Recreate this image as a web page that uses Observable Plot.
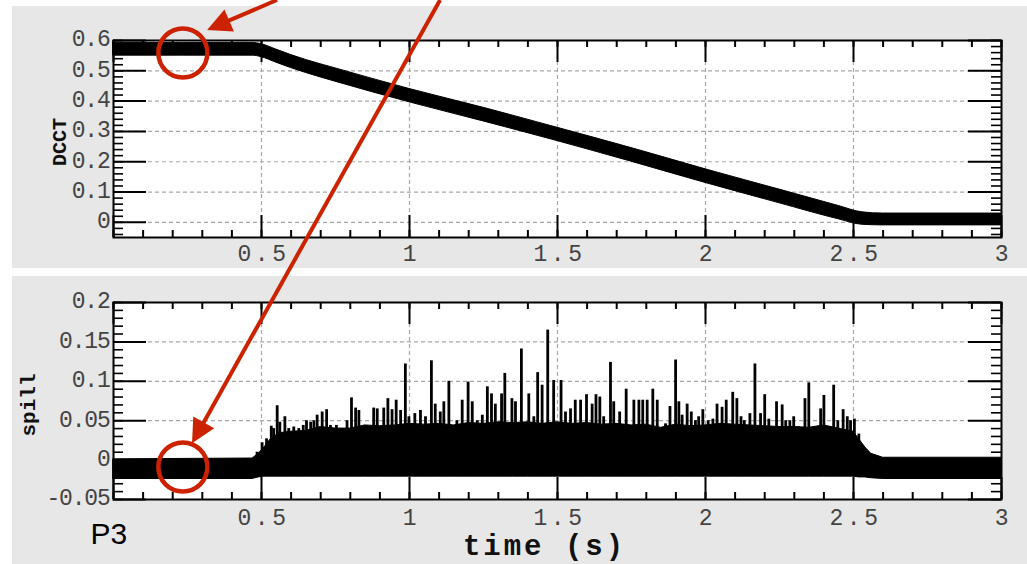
<!DOCTYPE html>
<html><head><meta charset="utf-8">
<script src="https://cdn.jsdelivr.net/npm/d3@7"></script>
<script src="https://cdn.jsdelivr.net/npm/@observablehq/plot@0.6"></script>
<style>
body{margin:0;background:#fff;width:1027px;height:564px;overflow:hidden;position:relative}
.panel{position:absolute;left:12px;width:1015px;background:#e7e7e7}
#p1{top:6px;height:262px}
#p2{top:276px;height:288px}
.panel svg{display:block}
#overlay{position:absolute;left:0;top:0;pointer-events:none}
</style></head><body>
<div class="panel" id="p1"></div>
<div class="panel" id="p2"></div>
<svg id="overlay" width="1027" height="564"></svg>
<script>
// ---- DCCT band (time, lower edge, upper edge) ----
const dcctT  = [0, 0.47, 0.50, 0.55, 0.60, 0.65, 0.75, 1.00, 1.25, 1.50, 1.75, 2.00, 2.25, 2.45, 2.53, 2.60, 3.00];
const dcctLo = [0.550, 0.550, 0.545, 0.527, 0.509, 0.493, 0.464, 0.396, 0.333, 0.268, 0.200, 0.130, 0.063, 0.010, -0.008, -0.010, -0.010];
const dcctHi = [0.592, 0.592, 0.588, 0.570, 0.552, 0.536, 0.508, 0.440, 0.378, 0.312, 0.245, 0.175, 0.108, 0.054, 0.033, 0.029, 0.029];

// ---- spill dense body (time, lower edge, upper edge) ----
const bodyT  = [0, 0.47, 0.49, 0.51, 0.53, 0.56, 0.60, 0.65, 0.70, 0.75, 0.80, 0.85, 0.90, 0.95, 1.00, 1.05, 1.10, 1.15, 1.20, 1.25, 1.30, 1.35, 1.40, 1.45, 1.50, 1.55, 1.60, 1.65, 1.70, 1.75, 1.80, 1.85, 1.90, 1.95, 2.00, 2.05, 2.10, 2.15, 2.20, 2.25, 2.30, 2.35, 2.40, 2.45, 2.50, 2.52, 2.54, 2.56, 2.60, 3.00];
const bodyLo = [-0.024, -0.024, -0.022, -0.021, -0.021, -0.021, -0.021, -0.021, -0.021, -0.021, -0.021, -0.021, -0.021, -0.021, -0.021, -0.021, -0.021, -0.021, -0.021, -0.021, -0.021, -0.021, -0.021, -0.021, -0.021, -0.021, -0.021, -0.021, -0.021, -0.021, -0.021, -0.021, -0.021, -0.021, -0.021, -0.021, -0.021, -0.021, -0.021, -0.021, -0.021, -0.021, -0.021, -0.021, -0.021, -0.022, -0.022, -0.023, -0.024, -0.024];
const bodyHi = [0.001, 0.002, 0.008, 0.016, 0.026, 0.034, 0.036, 0.037, 0.042, 0.040, 0.040, 0.044, 0.043, 0.044, 0.046, 0.045, 0.046, 0.044, 0.047, 0.046, 0.048, 0.047, 0.048, 0.046, 0.048, 0.046, 0.047, 0.045, 0.046, 0.044, 0.045, 0.041, 0.045, 0.043, 0.044, 0.046, 0.045, 0.044, 0.043, 0.042, 0.042, 0.041, 0.044, 0.040, 0.036, 0.026, 0.016, 0.008, 0.003, 0.003];

// ---- spill spikes (time, peak value) ----
const spikeT = [0.485,0.502,0.517,0.533,0.541,0.553,0.562,0.579,0.592,0.609,0.626,0.641,0.652,0.666,0.677,0.688,0.705,0.720,0.733,0.753,0.772,0.789,0.804,0.818,0.829,0.846,0.862,0.879,
  0.891,0.913,0.927,0.941,0.955,0.970,0.986,0.998,1.018,1.037,1.054,1.074,1.087,1.104,1.116,1.133,1.149,1.160,1.178,1.198,1.212,1.229,1.246,1.263,1.277,1.290,1.311,1.322,
  1.346,1.358,1.378,1.388,1.403,1.420,1.433,1.448,1.467,1.487,1.512,1.527,1.544,1.560,1.578,1.598,1.617,1.630,1.643,1.656,1.679,1.690,1.710,1.732,
  1.758,1.775,1.788,1.803,1.822,1.837,1.854,1.865,1.880,1.899,1.910,1.921,1.938,1.952,1.966,1.977,1.991,2.009,2.025,2.039,2.056,2.070,2.092,2.106,2.120,2.131,2.150,2.167,
  2.186,2.200,2.214,2.225,2.240,2.259,2.271,2.285,2.298,2.315,2.336,2.349,2.366,2.389,2.400,2.417,2.433,2.447,2.465,2.479,2.490,2.503,2.518,2.529,2.540];
const spikeV = [0.010,0.022,0.027,0.043,0.040,0.069,0.048,0.055,0.040,0.042,0.040,0.044,0.050,0.048,0.050,0.057,0.061,0.064,0.044,0.044,0.040,0.050,0.079,0.066,0.063,0.042,0.042,0.066,
  0.065,0.066,0.078,0.064,0.076,0.063,0.122,0.055,0.059,0.063,0.055,0.126,0.071,0.061,0.074,0.100,0.044,0.050,0.076,0.099,0.074,0.050,0.057,0.093,0.084,0.071,0.084,0.110,
  0.078,0.074,0.141,0.044,0.084,0.055,0.111,0.095,0.165,0.101,0.101,0.061,0.065,0.076,0.076,0.083,0.071,0.083,0.080,0.055,0.124,0.074,0.061,0.090,
  0.076,0.076,0.076,0.076,0.090,0.076,0.033,0.046,0.068,0.127,0.074,0.057,0.071,0.061,0.050,0.055,0.064,0.050,0.052,0.071,0.067,0.076,0.086,0.078,0.055,0.050,0.059,0.122,
  0.059,0.083,0.052,0.038,0.074,0.070,0.050,0.050,0.055,0.042,0.078,0.098,0.042,0.065,0.082,0.042,0.095,0.050,0.064,0.055,0.050,0.052,0.033,0.018,0.012];

// ---- axes: ticks and labels ----
const xMajor = [0, 0.5, 1, 1.5, 2, 2.5, 3];
const xLabels = ["", "0.5", "1", "1.5", "2", "2.5", "3"];
const xMinor = d3.range(0, 31).map(i => i / 10);
const dcctMajor = [0, 0.1, 0.2, 0.3, 0.4, 0.5, 0.6];
const dcctLabels = ["0", "0.1", "0.2", "0.3", "0.4", "0.5", "0.6"];
const dcctMinor = d3.range(-2, 31).map(i => i / 50);
const spillMajor = [-0.05, 0, 0.05, 0.1, 0.15, 0.2];
const spillLabels = ["-0.05", "0", "0.05", "0.1", "0.15", "0.2"];
const spillMinor = d3.range(-5, 21).map(i => i / 100);

// ---- annotations (data coordinates) ----
const ringT = [0.236, 0.236];
const ringV = [0.557, -0.0094];        // panel 1 (DCCT), panel 2 (spill)
const arrow1 = {fromT: 0.554, fromV: 0.732, toT: 0.318, toV: 0.633};          // both in panel 1
const arrow2 = {fromT: 1.105, fromV: 0.732, toT: 0.267, toV: 0.0207};         // from panel 1 to panel 2

const W = 1015, mL = 101, mR = 26;
const MONO = "Liberation Mono, Courier New, monospace";

function spacing(svg, key, px) {
  d3.select(svg).selectAll(`g[aria-description="${key}"] text, text[aria-label="${key}"]`).style("letter-spacing", px);
}

function makePanel({height, marginTop, marginBottom, yDomain, yMajor, yLabels, yMinor, marks, xLabelDy, extra}) {
  const innerH = height - marginTop - marginBottom;
  const innerW = W - mL - mR;
  const gridY = yMajor.filter(v => v > yDomain[0] && v < yDomain[1]);
  const gridX = xMajor.filter(v => v > 0 && v < 3);
  const svg = Plot.plot({
    width: W, height, marginLeft: mL, marginRight: mR, marginTop, marginBottom,
    x: {domain: [0, 3], axis: null},
    y: {domain: yDomain, axis: null},
    style: {background: "transparent", overflow: "visible"},
    marks: [
      Plot.frame({fill: "white"}),
      Plot.ruleX(gridX, {x: d => d, stroke: "#a8a8a8", strokeWidth: 1.2, strokeDasharray: "4,3"}),
      Plot.ruleY(gridY, {y: d => d, stroke: "#a8a8a8", strokeWidth: 1.2, strokeDasharray: "4,3"}),
      ...marks,
      Plot.ruleX(xMinor, {x: d => d, insetTop: innerH - 7, strokeWidth: 2}),
      Plot.ruleX(xMinor, {x: d => d, insetBottom: innerH - 7, strokeWidth: 2}),
      Plot.ruleX(xMajor, {x: d => d, insetTop: innerH - 22, strokeWidth: 2}),
      Plot.ruleX(xMajor, {x: d => d, insetBottom: innerH - 22, strokeWidth: 2}),
      Plot.ruleY(yMinor, {y: d => d, insetRight: innerW - 10, strokeWidth: 1.6}),
      Plot.ruleY(yMinor, {y: d => d, insetLeft: innerW - 10, strokeWidth: 1.6}),
      Plot.ruleY(yMajor, {y: d => d, insetRight: innerW - 33, strokeWidth: 2}),
      Plot.ruleY(yMajor, {y: d => d, insetLeft: innerW - 33, strokeWidth: 2}),
      Plot.frame({stroke: "black", strokeWidth: 2}),
      Plot.text(xMajor, {x: d => d, text: (d, i) => xLabels[i], frameAnchor: "bottom", lineAnchor: "middle", textAnchor: "middle", dy: xLabelDy, dx: 2,
        fontFamily: MONO, fontSize: 23, fill: "#444", ariaDescription: "xlabels", ariaLabel: () => "xlabels"}),
      Plot.text(yMajor, {y: d => d, text: (d, i) => yLabels[i], frameAnchor: "left", lineAnchor: "middle", dx: -4, dy: -1.5, textAnchor: "end",
        fontFamily: MONO, fontSize: 23, fill: "#444", ariaDescription: "ylabels", ariaLabel: () => "ylabels"}),
      ...extra
    ]
  });
  spacing(svg, "xlabels", "3.5px");
  spacing(svg, "ylabels", "-1.2px");
  return svg;
}

const dcct = dcctT.map((t, i) => ({t, lo: dcctLo[i], hi: dcctHi[i]}));
const body = bodyT.map((t, i) => ({t, lo: bodyLo[i], hi: bodyHi[i]}));
const spikes = spikeT.map((t, i) => ({t, v: spikeV[i]}));

const plot1 = makePanel({
  height: 262, marginTop: 34, marginBottom: 31,
  yDomain: [-0.05, 0.6], yMajor: dcctMajor, yLabels: dcctLabels, yMinor: dcctMinor, xLabelDy: 16.5,
  marks: [Plot.areaY(dcct, {x: "t", y1: "lo", y2: "hi", fill: "black", stroke: "black", strokeWidth: 1, curve: "monotone-x"})],
  extra: [
    Plot.text(["DCCT"], {text: d => d, frameAnchor: "left", textAnchor: "middle", lineAnchor: "middle", dx: -54, dy: 3, rotate: -90,
      fontFamily: MONO, fontWeight: "bold", fontSize: 20, fill: "#111"})
  ]
});
document.getElementById("p1").appendChild(plot1);

const plot2 = makePanel({
  height: 288, marginTop: 26, marginBottom: 65,
  yDomain: [-0.05, 0.2], yMajor: spillMajor, yLabels: spillLabels, yMinor: spillMinor, xLabelDy: 18,
  marks: [
    Plot.areaY(body, {x: "t", y1: "lo", y2: "hi", fill: "black", stroke: "black", strokeWidth: 1}),
    Plot.ruleX(spikes, {x: "t", y1: 0, y2: "v", stroke: "black", strokeWidth: 2.8})
  ],
  extra: [
    Plot.text(["spill"], {text: d => d, frameAnchor: "left", textAnchor: "middle", lineAnchor: "middle", dx: -85, dy: 4, rotate: -90,
      fontFamily: MONO, fontWeight: "bold", fontSize: 21, fill: "#111"}),
    Plot.text(["time (s)"], {text: d => d, frameAnchor: "bottom", textAnchor: "middle", lineAnchor: "middle", dx: -13, dy: 46,
      fontFamily: MONO, fontWeight: "bold", fontSize: 29, fill: "#111", ariaDescription: "xtitle", ariaLabel: () => "xtitle"}),
    Plot.text(["P3"], {text: d => d, frameAnchor: "bottom-left", textAnchor: "start", lineAnchor: "middle", dx: -23, dy: 35,
      fontFamily: "Liberation Sans, Arial, sans-serif", fontSize: 30, fill: "#000"})
  ]
});
spacing(plot2, "xtitle", "3px");
document.getElementById("p2").appendChild(plot2);

// ---- overlay annotations computed from the plots' scales ----
function toPage(plot, off, t, v) {
  const xs = plot.scale("x"), ys = plot.scale("y");
  const fx = d3.scaleLinear(xs.domain, xs.range), fy = d3.scaleLinear(ys.domain, ys.range);
  return [off[0] + fx(t), off[1] + fy(v)];
}
const off1 = [12, 6], off2 = [12, 276];
const RED = "#cc2200";
const ov = d3.select("#overlay");
function ring(p) {
  ov.append("circle").attr("cx", p[0]).attr("cy", p[1]).attr("r", 24.5)
    .attr("fill", "none").attr("stroke", RED).attr("stroke-width", 4.5);
}
function arrow(a, b) {
  const dx = b[0] - a[0], dy = b[1] - a[1], L = Math.hypot(dx, dy);
  const ux = dx / L, uy = dy / L, nx = -uy, ny = ux;
  const HL = 24, HW = 12;
  const bx = b[0] - ux * HL, by = b[1] - uy * HL;
  ov.append("line").attr("x1", a[0]).attr("y1", a[1]).attr("x2", bx + ux * 3).attr("y2", by + uy * 3)
    .attr("stroke", RED).attr("stroke-width", 4);
  ov.append("path").attr("d", `M${b[0]},${b[1]}L${bx + nx * HW},${by + ny * HW}L${bx - nx * HW},${by - ny * HW}Z`)
    .attr("fill", RED);
}
ring(toPage(plot1, off1, ringT[0], ringV[0]));
ring(toPage(plot2, off2, ringT[1], ringV[1]));
arrow(toPage(plot1, off1, arrow1.fromT, arrow1.fromV), toPage(plot1, off1, arrow1.toT, arrow1.toV));
arrow(toPage(plot1, off1, arrow2.fromT, arrow2.fromV), toPage(plot2, off2, arrow2.toT, arrow2.toV));
</script>
</body></html>
